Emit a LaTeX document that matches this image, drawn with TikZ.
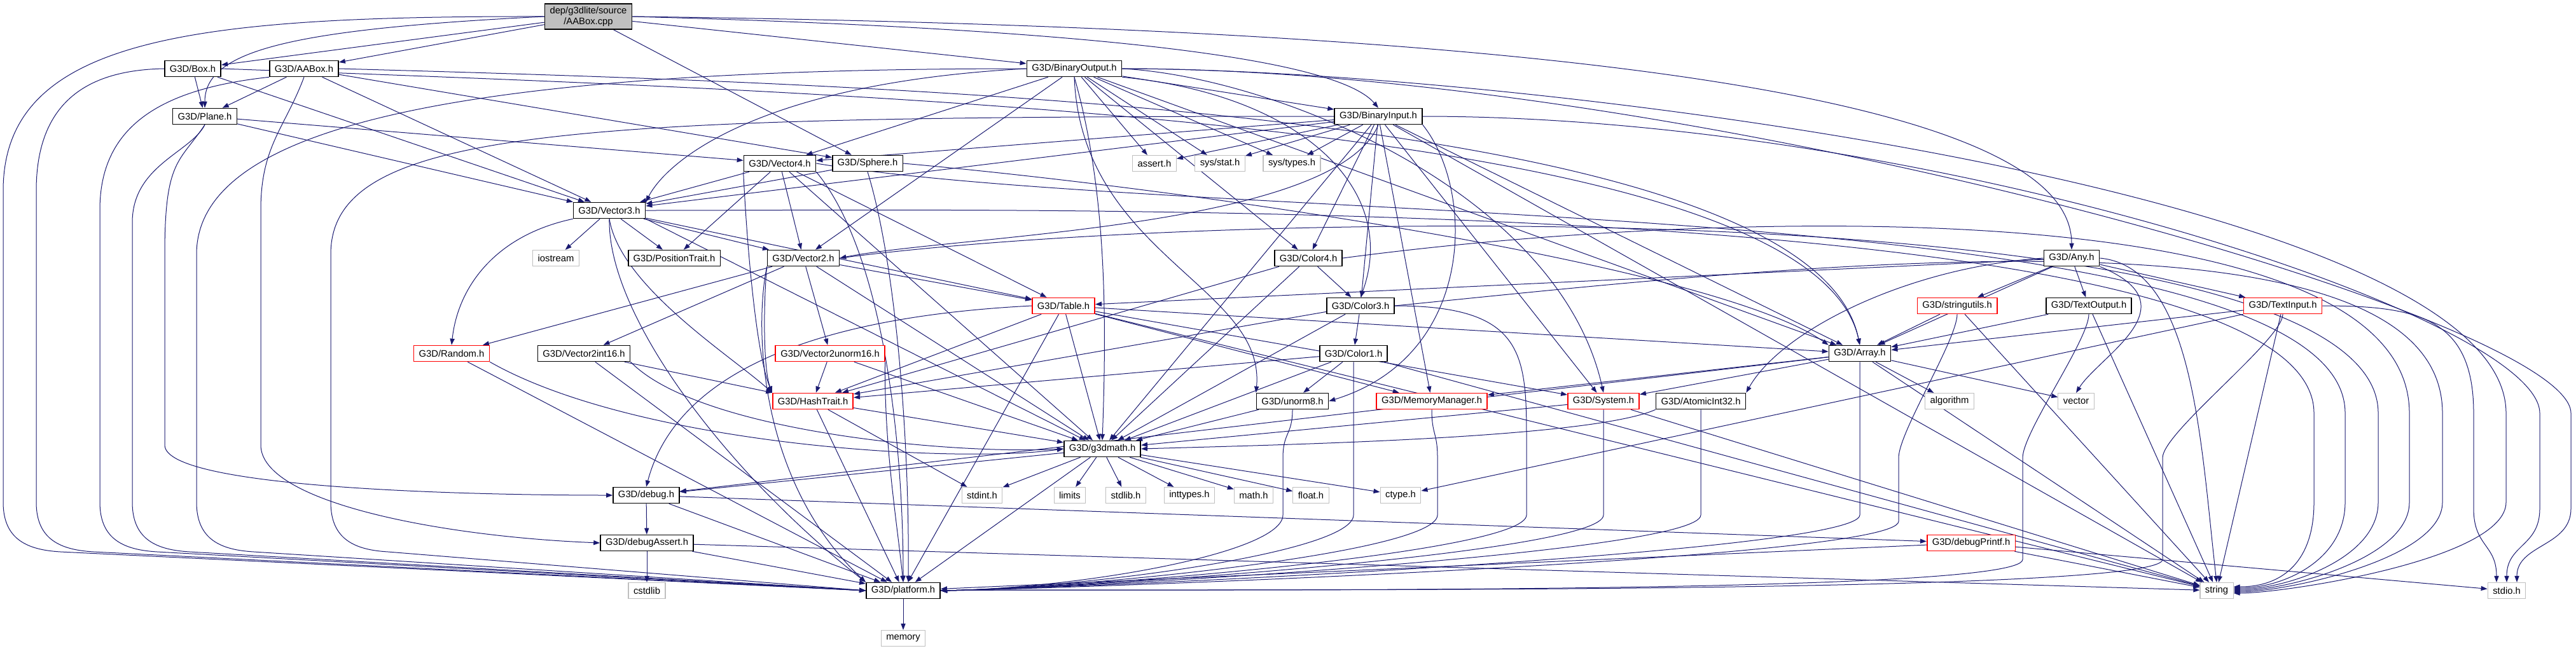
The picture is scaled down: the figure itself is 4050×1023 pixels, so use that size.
\documentclass[tikz,border=0pt]{standalone}
\usepackage{fontspec}
\setmainfont{Liberation Sans}
\usetikzlibrary{arrows.meta}

\definecolor{edgecol}{HTML}{191970}
\definecolor{sysgray}{HTML}{BFBFBF}

\pgfdeclarelayer{edges}
\pgfsetlayers{edges,main}

% lane edges: into platform.h from the left or the right, into string / stdio.h from the right
\newcommand{\platdep}[2]{%
  \draw[dep] #1 -- (#2,790)
    .. controls +(0,60) and +(-50,-3) .. (#2+90,868) -- (platform.west);}
\newcommand{\eastplat}[3]{%
  \draw[dep] (#1) .. controls +(0,40) and +(0,-40) .. (#2,720) -- (#2,#3)
    .. controls +(0,60) and +(220,-4) .. (platform.east);}
\newcommand{\stringdep}[4]{%
  \draw[dep] (#1.east) .. controls +(600,#4) and +(0,-350) .. (#2,650) -- (#2,790)
    .. controls +(0,90) and +(80,0) .. ([yshift=#3pt]string.east);}
\newcommand{\stdiodep}[4]{%
  \draw[dep] (#1.east) .. controls +(#4,0) and +(0,-150) .. (#2,650) -- (#2,800)
    .. controls +(0,60) and +(0,-60) .. ([xshift=#3pt]stdio.north);}

\begin{document}
\begin{tikzpicture}[
  x=0.5pt, y=-0.5pt,
  filebox/.style={draw=black, fill=white, line width=0.8pt, font=\fontsize{7.4}{8.8}\selectfont,
    inner xsep=4pt, inner ysep=0pt, minimum height=12.5pt},
  hdr/.style={filebox},
  trunc/.style={filebox, draw=red},
  syshdr/.style={filebox, draw=sysgray, line width=0.6pt},
  srcfile/.style={filebox, fill=sysgray, align=center, minimum height=20pt},
  dep/.style={draw=edgecol, line width=0.5pt, -{Triangle[length=5pt,width=3.6pt]}}
]
  \useasboundingbox (0,0) rectangle (4050,1023);

  % the source file
  \node[srcfile] (root) at (925,26) {dep/g3dlite/source\\/AABox.cpp};

  % headers, row by row
  \node[hdr] (boxh) at (303,108) {G3D/Box.h};
  \node[hdr] (aaboxh) at (478,108) {G3D/AABox.h};
  \node[hdr] (binout) at (1689,108) {G3D/BinaryOutput.h};

  \node[hdr] (planeh) at (322,183) {G3D/Plane.h};
  \node[hdr] (binin) at (2167,183) {G3D/BinaryInput.h};

  \node[hdr] (vecfour) at (1226,257) {G3D/Vector4.h};
  \node[hdr] (sphereh) at (1364,257) {G3D/Sphere.h};
  \node[syshdr] (asserth) at (1815,257) {assert.h};
  \node[syshdr] (sysstat) at (1918,257) {sys/stat.h};
  \node[syshdr] (systypes) at (2031,257) {sys/types.h};

  \node[hdr] (vecthree) at (958,331) {G3D/Vector3.h};

  \node[syshdr] (iostream) at (874,406) {iostream};
  \node[hdr] (postrait) at (1060,406) {G3D/PositionTrait.h};
  \node[hdr] (vectwo) at (1263,406) {G3D/Vector2.h};
  \node[hdr] (colorfour) at (2057,406) {G3D/Color4.h};
  \node[hdr] (anyh) at (3257,406) {G3D/Any.h};

  \node[trunc] (table) at (1672,481) {G3D/Table.h};
  \node[hdr] (colorthree) at (2139,481) {G3D/Color3.h};
  \node[trunc] (strutil) at (3077,481) {G3D/stringutils.h};
  \node[hdr] (textout) at (3284,481) {G3D/TextOutput.h};
  \node[trunc] (textin) at (3589,481) {G3D/TextInput.h};

  \node[trunc] (random) at (710,556) {G3D/Random.h};
  \node[hdr] (vectwoint) at (918,556) {G3D/Vector2int16.h};
  \node[trunc] (vectwounorm) at (1305,556) {G3D/Vector2unorm16.h};
  \node[hdr] (colorone) at (2128,556) {G3D/Color1.h};
  \node[hdr] (array) at (2924,556) {G3D/Array.h};

  \node[trunc] (hash) at (1278,631) {G3D/HashTrait.h};
  \node[hdr] (unormeight) at (2032,631) {G3D/unorm8.h};
  \node[trunc] (memmgr) at (2251,631) {G3D/MemoryManager.h};
  \node[trunc] (system) at (2521,631) {G3D/System.h};
  \node[hdr] (atomic) at (2674,631) {G3D/AtomicInt32.h};
  \node[syshdr] (algorithm) at (3065,631) {algorithm};
  \node[syshdr] (vector) at (3264,631) {vector};

  \node[hdr] (gmath) at (1733,706) {G3D/g3dmath.h};

  \node[hdr] (debug) at (1016,779) {G3D/debug.h};
  \node[syshdr] (stdint) at (1544,779) {stdint.h};
  \node[syshdr] (limits) at (1682,779) {limits};
  \node[syshdr] (stdlib) at (1770,779) {stdlib.h};
  \node[syshdr] (inttypes) at (1870,779) {inttypes.h};
  \node[syshdr] (mathh) at (1971,779) {math.h};
  \node[syshdr] (floath) at (2061,779) {float.h};
  \node[syshdr] (ctype) at (2202,779) {ctype.h};

  \node[hdr] (dbgassert) at (1017,854) {G3D/debugAssert.h};
  \node[trunc] (dbgprintf) at (3099,854) {G3D/debugPrintf.h};

  \node[syshdr] (cstdlib) at (1017,929) {cstdlib};
  \node[hdr] (platform) at (1420,929) {G3D/platform.h};
  \node[syshdr] (string) at (3485,929) {string};
  \node[syshdr] (stdio) at (3941,929) {stdio.h};

  \node[syshdr] (memory) at (1420,1004) {memory};

  \begin{pgfonlayer}{edges}
  % direct includes
  \foreach \a/\b in {root/boxh, root/aaboxh, root/sphereh, root/binout,
      boxh/planeh, boxh/vecthree,
      aaboxh/planeh, aaboxh/vecthree, aaboxh/sphereh,
      planeh/vecfour, planeh/vecthree,
      sphereh/vecthree,
      vecfour/vecthree, vecfour/postrait, vecfour/vectwo, vecfour/table, vecfour/gmath,
      vecthree/iostream, vecthree/postrait, vecthree/vectwo, vecthree/table,
      vectwo/random, vectwo/vectwoint, vectwo/vectwounorm, vectwo/table, vectwo/gmath,
      random/platform,
      vectwoint/hash, vectwoint/platform,
      vectwounorm/hash, vectwounorm/gmath,
      hash/gmath, hash/platform, hash/stdint,
      table/hash, table/array, table/memmgr, table/system, table/gmath,
      table/platform, table/string,
      binout/binin, binout/colorfour, binout/vecfour, binout/vectwo, binout/array,
      binout/asserth, binout/sysstat, binout/systypes,
      binin/colorfour, binin/colorthree, binin/vecfour, binin/vecthree,
      binin/gmath, binin/system, binin/array, binin/asserth, binin/sysstat, binin/systypes,
      binin/memmgr, binin/string,
      colorfour/colorthree, colorfour/gmath, colorfour/hash,
      colorthree/colorone, colorthree/gmath, colorthree/hash,
      colorone/unormeight, colorone/gmath, colorone/hash, colorone/string,
      unormeight/gmath,
      system/gmath, system/string,
      array/memmgr, array/system, array/algorithm, array/vector, array/debug,
      array/string,
      anyh/table, anyh/array, anyh/strutil, anyh/textout, anyh/textin,
      strutil/array, strutil/string,
      textout/array, textout/string,
      textin/array, textin/ctype, textin/string,
      gmath/debug, gmath/platform, gmath/stdint, gmath/limits, gmath/stdlib,
      gmath/inttypes, gmath/mathh, gmath/floath, gmath/ctype,
      debug/dbgassert, debug/dbgprintf, debug/platform,
      dbgassert/cstdlib, dbgassert/platform, dbgassert/string,
      dbgprintf/platform, dbgprintf/string, dbgprintf/stdio,
      platform/memory}
    \draw[dep] (\a) -- (\b);

  % bent round other boxes
  \draw[dep] (root.west) .. controls +(-400,20) and +(0,-90) .. (planeh.north);
  \draw[dep] (root.east) .. controls (1700,45) and (2100,90) .. (binin.north);
  \draw[dep] (root.east) .. controls +(1600,20) and +(0,-220) .. (anyh.north);
  \draw[dep] (boxh.east) .. controls (1500,150) and (2850,200) .. (array.north);
  \draw[dep] (aaboxh.east) .. controls (1500,135) and (2850,180) .. (array.north);
  \draw[dep] (sphereh.east) .. controls (1900,300) and (2700,420) .. (array.north west);
  \draw[dep] (sphereh.south) .. controls (1410,420) and (1430,700) .. ([xshift=4pt]platform.north);
  \draw[dep] (vecfour.south west) .. controls (1175,400) and (1190,560) .. (hash.north west);
  \draw[dep] (vecfour.south east) .. controls (1390,400) and (1420,700) .. (platform.north);
  \draw[dep] (vecthree.south west) .. controls (780,370) and (720,450) .. (random.north);
  \draw[dep] (vecthree.south) .. controls (975,450) and (1150,560) .. (hash.north west);
  \draw[dep] (vecthree.south) .. controls (955,500) and (1150,750) .. (platform.north west);
  \draw[dep] (vecthree.south east) -- (gmath);
  \draw[dep] (vectwo.south west) .. controls (1200,480) and (1200,580) .. (hash.north west);
  \draw[dep] (vectwo.south west) .. controls (1185,520) and (1195,760) .. (platform.north west);
  \draw[dep] (vectwounorm.south east) .. controls (1390,700) and (1410,820) .. (platform.north);
  \draw[dep] (random.south east) .. controls (1000,700) and (1500,730) .. (gmath.west);
  \draw[dep] (vectwoint.south east) .. controls (1100,680) and (1500,715) .. (gmath.west);
  \draw[dep] (table.west) .. controls (1250,500) and (1060,600) .. (debug.north);
  \draw[dep] (binout.west) .. controls (1200,130) and (1050,250) .. (vecthree.north east);
  \draw[dep] (binout.south) .. controls (1740,300) and (1740,500) .. (gmath.north);
  \draw[dep] (binout.south) .. controls (1700,400) and (1990,450) .. (unormeight.north west);
  \draw[dep] (binout.south east) .. controls (2050,150) and (2200,300) .. (colorthree.north);
  \draw[dep] (binout.east) .. controls (2000,120) and (2450,300) .. (system.north);
  \draw[dep] (binin.south) .. controls (2100,360) and (1500,370) .. (vectwo.east);
  \draw[dep] (binin.south east) .. controls (2320,300) and (2320,560) .. (unormeight.east);
  \draw[dep] (atomic.south west) .. controls (2500,690) and (2000,700) .. (gmath.east);
  \draw[dep] (anyh.west) .. controls (3000,420) and (2800,520) .. (atomic.north east);
  \draw[dep] (anyh.south east) .. controls (3450,480) and (3300,560) .. (vector.north);
  \draw[dep] (anyh.east) .. controls (3450,420) and (3460,700) .. (string.north);

  % routed round the left side
  \platdep{(root.west) .. controls (300,25) and (5,60) .. (5,300)}{5}
  \platdep{(boxh.west) .. controls (150,110) and (57,150) .. (57,300)}{57}
  \platdep{(aaboxh.south west) .. controls (250,140) and (157,200) .. (157,330)}{157}
  \platdep{(planeh.south) .. controls (300,240) and (208,260) .. (208,350)}{208}
  \platdep{(binout.west) .. controls (714,108) and (309,200) .. (309,400)}{309}
  \platdep{(binin.west) .. controls (898,183) and (520,200) .. (520,400)}{520}
  \draw[dep] (planeh.south) .. controls +(-40,60) and +(0,-150) .. (259,400) -- (259,700)
    .. controls +(0,70) and +(-200,0) .. (debug.west);
  \draw[dep] (aaboxh.south) .. controls +(-30,80) and +(0,-100) .. (410,330) -- (410,700)
    .. controls +(0,90) and +(-250,-10) .. (dbgassert.west);

  % coming down into platform.h from the right
  \draw[dep] (colorthree.east) .. controls (2400,481) and (2400,560) .. (2400,700) -- (2400,810)
    .. controls +(0,60) and +(220,-4) .. (platform.east);
  \eastplat{colorone.south}{2128}{810}
  \eastplat{unormeight.south}{2017}{810}
  \eastplat{memmgr.south}{2260}{810}
  \eastplat{system.south}{2521}{810}
  \eastplat{atomic.south}{2674}{810}
  \eastplat{array.south}{2924}{810}
  \eastplat{strutil.south}{2985}{820}
  \eastplat{textout.south}{3180}{880}
  \eastplat{textin.south}{3400}{880}

  % routed round the right side
  \stringdep{vecthree}{3638}{3}{0}
  \stringdep{vecfour}{3687}{2}{100}
  \stringdep{vectwo}{3739}{1}{-80}
  \stringdep{colorfour}{3788}{0}{-80}
  \stringdep{colorthree}{3840}{-1}{-60}
  \stringdep{binout}{3940}{-2}{0}
  \stdiodep{textin}{3889}{-8}{150}
  \stdiodep{binin}{3993}{0}{800}
  \stdiodep{binout}{4042}{8}{900}
  \end{pgfonlayer}
\end{tikzpicture}
\end{document}
